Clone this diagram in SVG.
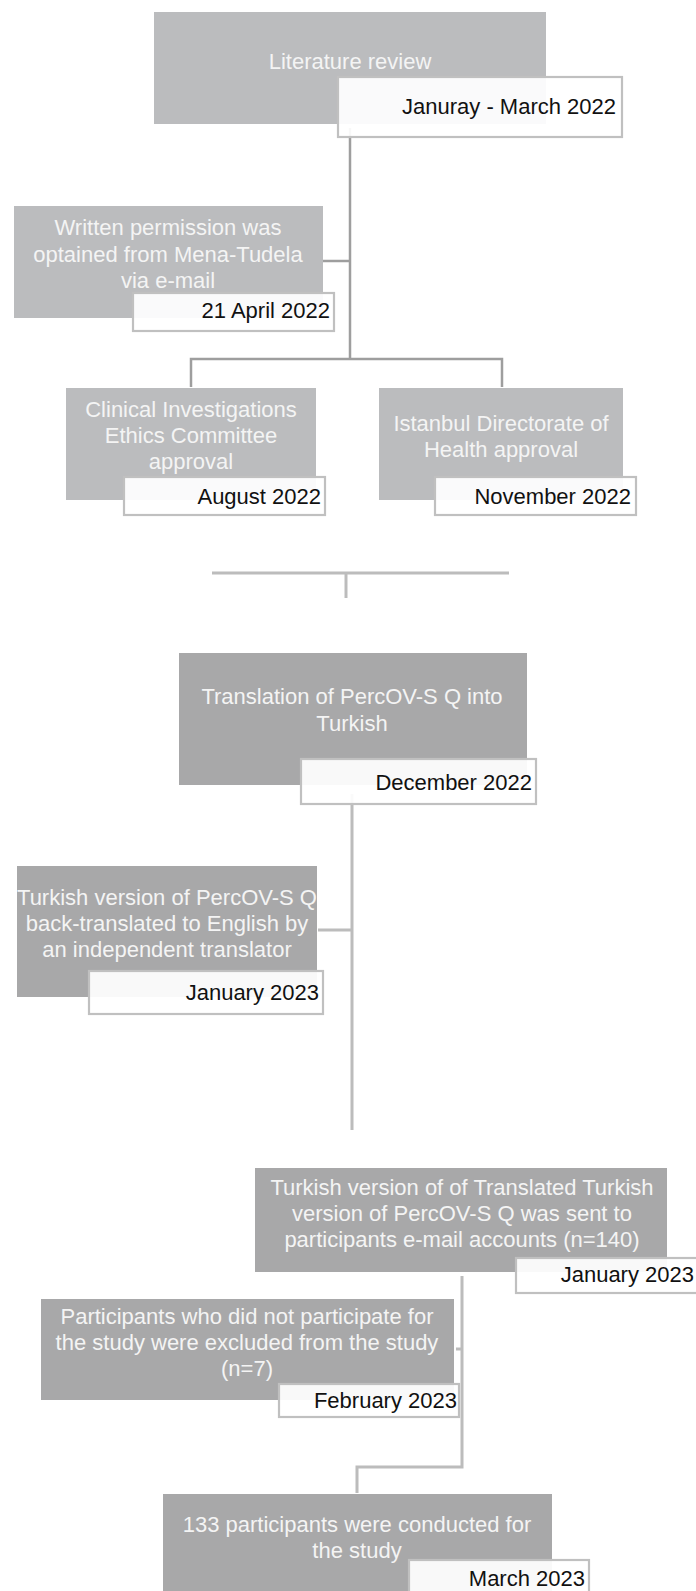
<svg xmlns="http://www.w3.org/2000/svg" width="696" height="1591" viewBox="0 0 696 1591">
<style>
.box1{fill:#bbbcbe}
.box2{fill:#a8a8a9}
.date{fill:#ffffff;fill-opacity:0.93;stroke:#c0c0c0;stroke-width:2.2}
.t{font-family:"Liberation Sans",Arial,sans-serif;font-size:22px;fill:#f4f4f4;text-anchor:middle}
.d{font-family:"Liberation Sans",Arial,sans-serif;font-size:22px;fill:#111111;text-anchor:end}
.c1{fill:none;stroke:#9e9e9e;stroke-width:2.5}
.c2{fill:none;stroke:#bcbcbc;stroke-width:3}
</style>
<g id="connectors">
<path class="c1" d="M350 128 V359"/>
<path class="c1" d="M323 261 H350"/>
<path class="c1" d="M191 387 V359 H502 V387"/>
<path class="c2" d="M212 573 H509"/>
<path class="c2" d="M346 573 V598"/>
<path class="c2" d="M352 794 V1130"/>
<path class="c2" d="M318 930 H352"/>
<path class="c2" d="M462 1276 V1467 H357 V1493"/>
<path class="c2" d="M456 1349 H462"/>
</g>
<g id="n1">
<rect class="box1" x="154" y="12" width="392" height="112"/>
<text class="t" x="350" y="69">Literature review</text>
<rect class="date" x="338" y="77" width="284" height="60"/>
<text class="d" x="616" y="114">Januray - March 2022</text>
</g>
<g id="n2">
<rect class="box1" x="14" y="206" width="309" height="112"/>
<text class="t" x="168" y="235">Written permission was</text>
<text class="t" x="168" y="262">optained from Mena-Tudela</text>
<text class="t" x="168" y="288">via e-mail</text>
<rect class="date" x="133" y="293" width="201" height="38"/>
<text class="d" x="330" y="318">21 April 2022</text>
</g>
<g id="n3">
<rect class="box1" x="66" y="388" width="250" height="112"/>
<text class="t" x="191" y="417">Clinical Investigations</text>
<text class="t" x="191" y="443">Ethics Committee</text>
<text class="t" x="191" y="469">approval</text>
<rect class="date" x="124" y="477" width="201" height="38"/>
<text class="d" x="321" y="504">August 2022</text>
</g>
<g id="n4">
<rect class="box1" x="379" y="388" width="244" height="112"/>
<text class="t" x="501" y="431">Istanbul Directorate of</text>
<text class="t" x="501" y="457">Health approval</text>
<rect class="date" x="435" y="477" width="201" height="38"/>
<text class="d" x="631" y="504">November 2022</text>
</g>
<g id="n5">
<rect class="box2" x="179" y="653" width="348" height="132"/>
<text class="t" x="352" y="704">Translation of PercOV-S Q into</text>
<text class="t" x="352" y="731">Turkish</text>
<rect class="date" x="301" y="759" width="235" height="45"/>
<text class="d" x="532" y="790">December 2022</text>
</g>
<g id="n6">
<rect class="box2" x="17" y="866" width="300" height="131"/>
<text class="t" x="167" y="905">Turkish version of PercOV-S Q</text>
<text class="t" x="167" y="931">back-translated to English by</text>
<text class="t" x="167" y="957">an independent translator</text>
<rect class="date" x="89" y="971" width="234" height="43"/>
<text class="d" x="319" y="1000">January 2023</text>
</g>
<g id="n7">
<rect class="box2" x="255" y="1168" width="412" height="104"/>
<text class="t" x="462" y="1195">Turkish version of of Translated Turkish</text>
<text class="t" x="462" y="1221">version of PercOV-S Q was sent to</text>
<text class="t" x="462" y="1247">participants e-mail accounts (n=140)</text>
<rect class="date" x="516" y="1258" width="182" height="35"/>
<text class="d" x="694" y="1282">January 2023</text>
</g>
<g id="n8">
<rect class="box2" x="41" y="1299" width="413" height="101"/>
<text class="t" x="247" y="1324">Participants who did not participate for</text>
<text class="t" x="247" y="1350">the study were excluded from the study</text>
<text class="t" x="247" y="1376">(n=7)</text>
<rect class="date" x="279" y="1384" width="180" height="33"/>
<text class="d" x="457" y="1408">February 2023</text>
</g>
<g id="n9">
<rect class="box2" x="163" y="1494" width="389" height="100"/>
<text class="t" x="357" y="1532">133 participants were conducted for</text>
<text class="t" x="357" y="1558">the study</text>
<rect class="date" x="409" y="1560" width="180" height="35"/>
<text class="d" x="585" y="1586">March 2023</text>
</g>
</svg>
